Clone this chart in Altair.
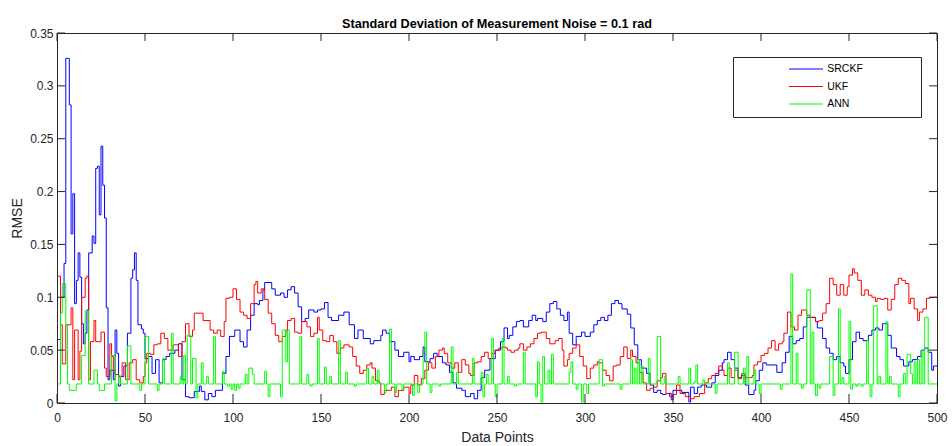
import altair as alt
import pandas as pd

# ---------------- data ----------------
SERIES = ["SRCKF", "UKF", "ANN"]
COLORS = ["#0000ff", "#ff0000", "#00ff00"]
X_MAX = 500
X_TICKS = [0, 50, 100, 150, 200, 250, 300, 350, 400, 450, 500]
Y_TICKS = [0, 0.05, 0.1, 0.15, 0.2, 0.25, 0.3, 0.35]

# SRCKF: step runs (start index, value)
SRCKF_START = [0, 2, 4, 5, 7, 8, 9, 10, 11, 12, 13, 14, 15, 16, 17, 18, 20, 21, 22, 23, 24, 25, 26, 27, 28,
               29, 30, 32, 33, 34, 35, 36, 38, 40, 42, 43, 44, 45, 46, 48, 49, 50, 52, 54, 56, 58, 60, 62,
               64, 67, 69, 71, 73, 75, 78, 81, 82, 84, 86, 88, 90, 94, 96, 98, 101, 104, 106, 108, 110,
               112, 114, 115, 117, 118, 122, 124, 127, 129, 131, 133, 135, 137, 139, 141, 143, 146, 148,
               150, 152, 154, 156, 160, 163, 166, 169, 171, 174, 178, 180, 184, 185, 187, 189, 192, 194,
               197, 200, 201, 203, 206, 208, 209, 212, 214, 216, 219, 221, 223, 225, 227, 230, 232, 235,
               237, 239, 241, 243, 246, 249, 252, 254, 256, 257, 259, 261, 263, 265, 268, 270, 272, 273,
               276, 278, 280, 282, 284, 286, 288, 290, 291, 293, 295, 298, 300, 303, 305, 307, 309, 311,
               313, 315, 317, 319, 321, 324, 326, 328, 330, 332, 335, 337, 339, 341, 343, 344, 346, 349,
               350, 355, 359, 360, 362, 364, 366, 369, 372, 374, 376, 378, 379, 381, 383, 385, 387, 389,
               391, 393, 396, 397, 399, 401, 403, 409, 412, 414, 416, 418, 420, 422, 424, 426, 431, 432,
               435, 437, 439, 441, 443, 445, 447, 448, 450, 452, 454, 456, 458, 461, 463, 465, 467, 469,
               472, 474, 477, 479, 481, 484, 486, 489, 491, 493, 495, 497, 498]
SRCKF_VALUE = [0.060, 0.100, 0.132, 0.326, 0.282, 0.160, 0.198, 0.094, 0.116, 0.142, 0.119, 0.075, 0.056,
               0.066, 0.088, 0.142, 0.158, 0.151, 0.222, 0.224, 0.178, 0.243, 0.206, 0.175, 0.090, 0.022,
               0.031, 0.022, 0.069, 0.047, 0.016, 0.025, 0.035, 0.066, 0.118, 0.126, 0.142, 0.116, 0.074,
               0.070, 0.066, 0.042, 0.044, 0.028, 0.041, 0.019, 0.041, 0.044, 0.047, 0.050, 0.056, 0.022,
               0.006, 0.005, 0.011, 0.016, 0.011, 0.003, 0.009, 0.006, 0.012, 0.028, 0.044, 0.063, 0.069,
               0.058, 0.053, 0.069, 0.083, 0.094, 0.093, 0.097, 0.107, 0.114, 0.108, 0.102, 0.104, 0.100,
               0.107, 0.110, 0.104, 0.091, 0.077, 0.080, 0.088, 0.086, 0.088, 0.089, 0.095, 0.081, 0.078,
               0.083, 0.086, 0.074, 0.061, 0.069, 0.061, 0.056, 0.059, 0.064, 0.069, 0.066, 0.058, 0.050,
               0.044, 0.048, 0.039, 0.044, 0.041, 0.044, 0.053, 0.039, 0.042, 0.047, 0.044, 0.038, 0.036,
               0.029, 0.019, 0.014, 0.012, 0.006, 0.009, 0.004, 0.012, 0.024, 0.031, 0.042, 0.050, 0.058,
               0.071, 0.061, 0.064, 0.072, 0.077, 0.078, 0.072, 0.078, 0.083, 0.078, 0.080, 0.077, 0.086,
               0.094, 0.096, 0.089, 0.083, 0.078, 0.086, 0.066, 0.055, 0.063, 0.067, 0.063, 0.067, 0.074,
               0.078, 0.081, 0.078, 0.083, 0.094, 0.097, 0.094, 0.089, 0.084, 0.071, 0.055, 0.041, 0.033,
               0.028, 0.017, 0.010, 0.012, 0.009, 0.008, 0.009, 0.003, 0.012, 0.010, 0.001, 0.015, 0.009,
               0.015, 0.017, 0.015, 0.019, 0.026, 0.031, 0.038, 0.041, 0.048, 0.041, 0.033, 0.024, 0.026,
               0.017, 0.008, 0.012, 0.021, 0.031, 0.038, 0.036, 0.029, 0.038, 0.048, 0.063, 0.056, 0.059,
               0.061, 0.072, 0.081, 0.077, 0.071, 0.061, 0.052, 0.047, 0.041, 0.044, 0.038, 0.035, 0.028,
               0.041, 0.058, 0.067, 0.061, 0.059, 0.064, 0.069, 0.071, 0.069, 0.075, 0.064, 0.052, 0.044,
               0.041, 0.035, 0.039, 0.041, 0.044, 0.050, 0.052, 0.048, 0.031, 0.035]

# UKF: step runs (start index, value)
UKF_START = [0, 2, 3, 5, 8, 9, 10, 12, 13, 14, 16, 17, 18, 19, 21, 22, 25, 27, 28, 30, 31, 32, 33, 35, 37,
             39, 41, 43, 45, 47, 49, 50, 51, 53, 55, 57, 59, 61, 63, 66, 69, 71, 73, 75, 77, 78, 83, 87,
             89, 91, 93, 95, 96, 98, 100, 102, 104, 106, 108, 110, 112, 113, 114, 116, 118, 120, 122, 124,
             126, 128, 130, 131, 133, 135, 137, 139, 142, 144, 146, 148, 149, 151, 153, 155, 157, 159, 161,
             163, 166, 168, 170, 172, 174, 176, 178, 179, 181, 183, 184, 186, 190, 192, 194, 197, 200, 201,
             203, 205, 207, 209, 211, 213, 215, 217, 219, 220, 222, 224, 226, 228, 230, 232, 234, 235, 237,
             239, 241, 243, 245, 247, 249, 251, 253, 255, 256, 258, 260, 262, 263, 265, 267, 269, 271, 273,
             275, 278, 280, 283, 285, 287, 288, 290, 291, 293, 295, 297, 299, 301, 303, 305, 307, 308, 310,
             312, 314, 316, 318, 320, 322, 324, 326, 327, 329, 331, 333, 335, 337, 339, 341, 343, 344, 346,
             348, 350, 352, 354, 357, 360, 362, 365, 368, 370, 372, 374, 376, 378, 379, 381, 383, 385, 387,
             389, 391, 395, 396, 398, 400, 402, 404, 406, 408, 410, 412, 413, 415, 417, 419, 421, 423, 426,
             428, 431, 433, 435, 437, 439, 441, 443, 445, 447, 449, 450, 452, 453, 455, 457, 459, 461, 463,
             465, 466, 468, 470, 472, 474, 476, 478, 480, 482, 484, 485, 487, 489, 490, 492, 494, 496]
UKF_VALUE = [0.120, 0.074, 0.037, 0.074, 0.090, 0.022, 0.069, 0.022, 0.049, 0.100, 0.118, 0.120, 0.022,
             0.058, 0.078, 0.058, 0.067, 0.033, 0.025, 0.056, 0.044, 0.031, 0.027, 0.025, 0.038, 0.022,
             0.038, 0.041, 0.022, 0.019, 0.025, 0.038, 0.047, 0.046, 0.055, 0.056, 0.066, 0.061, 0.050,
             0.055, 0.044, 0.058, 0.075, 0.063, 0.069, 0.085, 0.078, 0.069, 0.066, 0.069, 0.063, 0.077,
             0.099, 0.100, 0.108, 0.098, 0.086, 0.083, 0.080, 0.094, 0.112, 0.115, 0.104, 0.108, 0.098,
             0.085, 0.075, 0.064, 0.058, 0.063, 0.069, 0.078, 0.080, 0.067, 0.066, 0.077, 0.072, 0.063,
             0.066, 0.081, 0.069, 0.059, 0.058, 0.064, 0.058, 0.047, 0.052, 0.055, 0.053, 0.044, 0.035,
             0.028, 0.031, 0.036, 0.038, 0.033, 0.021, 0.019, 0.008, 0.012, 0.015, 0.006, 0.012, 0.015,
             0.009, 0.017, 0.026, 0.017, 0.023, 0.031, 0.038, 0.033, 0.044, 0.050, 0.052, 0.047, 0.038,
             0.033, 0.038, 0.029, 0.041, 0.036, 0.028, 0.026, 0.038, 0.039, 0.044, 0.048, 0.042, 0.047,
             0.050, 0.052, 0.053, 0.052, 0.050, 0.048, 0.050, 0.052, 0.056, 0.050, 0.053, 0.056, 0.061,
             0.066, 0.067, 0.061, 0.056, 0.059, 0.061, 0.050, 0.035, 0.041, 0.047, 0.052, 0.055, 0.044,
             0.035, 0.023, 0.033, 0.036, 0.039, 0.038, 0.031, 0.026, 0.021, 0.035, 0.036, 0.044, 0.053,
             0.042, 0.050, 0.044, 0.038, 0.029, 0.019, 0.012, 0.014, 0.015, 0.021, 0.024, 0.028, 0.009,
             0.006, 0.008, 0.017, 0.009, 0.006, 0.004, 0.006, 0.009, 0.019, 0.023, 0.026, 0.028, 0.035,
             0.031, 0.026, 0.033, 0.024, 0.031, 0.023, 0.028, 0.024, 0.026, 0.036, 0.039, 0.045, 0.047,
             0.052, 0.059, 0.050, 0.056, 0.058, 0.066, 0.086, 0.072, 0.069, 0.083, 0.088, 0.083, 0.081,
             0.077, 0.078, 0.085, 0.094, 0.118, 0.112, 0.102, 0.112, 0.102, 0.110, 0.121, 0.127, 0.123,
             0.116, 0.102, 0.107, 0.102, 0.100, 0.096, 0.099, 0.098, 0.099, 0.088, 0.098, 0.112, 0.118,
             0.116, 0.113, 0.094, 0.099, 0.089, 0.078, 0.086, 0.089, 0.099, 0.100]

# ANN: flat floor with one-sample spikes
ANN_BASE = 0.018
ANN_SPIKE_AT = [2, 3, 4, 5, 7, 8, 9, 10, 14, 15, 16, 17, 21, 22, 24, 25, 26, 31, 32, 33, 35, 40, 41, 47,
                50, 51, 57, 60, 65, 70, 72, 74, 75, 77, 78, 79, 82, 85, 89, 94, 97, 99, 101, 103, 107,
                109, 110, 111, 118, 120, 127, 128, 129, 130, 131, 138, 142, 144, 148, 152, 155, 160, 164,
                169, 176, 179, 182, 186, 189, 192, 196, 202, 205, 208, 209, 212, 217, 224, 227, 236, 241,
                242, 244, 247, 249, 253, 256, 260, 265, 272, 273, 275, 276, 279, 281, 291, 292, 295, 298,
                301, 308, 309, 310, 320, 326, 328, 330, 332, 336, 341, 342, 345, 353, 359, 362, 363, 367,
                374, 381, 385, 386, 390, 392, 396, 399, 411, 417, 420, 423, 426, 427, 429, 431, 433, 439,
                440, 441, 444, 446, 450, 451, 454, 457, 460, 462, 464, 465, 467, 471, 473, 478, 481, 483,
                484, 485, 487, 489, 491, 493, 494]
ANN_SPIKE_VAL = [0.085, 0.113, 0.113, 0.074, 0.012, 0.012, 0.012, 0.012, 0.045, 0.045, 0.087, 0.087,
                 0.031, 0.031, 0.012, 0.012, 0.012, 0.045, 0.045, 0.002, 0.026, 0.054, 0.054, 0.012,
                 0.063, 0.063, 0.012, 0.042, 0.066, 0.025, 0.045, 0.064, 0.064, 0.042, 0.042, 0.005,
                 0.038, 0.025, 0.063, 0.030, 0.016, 0.013, 0.012, 0.014, 0.027, 0.033, 0.033, 0.027,
                 0.030, 0.006, 0.006, 0.069, 0.069, 0.039, 0.069, 0.063, 0.027, 0.016, 0.061, 0.034,
                 0.025, 0.059, 0.029, 0.016, 0.033, 0.025, 0.031, 0.010, 0.070, 0.010, 0.013, 0.007,
                 0.010, 0.050, 0.067, 0.010, 0.016, 0.053, 0.029, 0.042, 0.029, 0.006, 0.027, 0.061,
                 0.006, 0.061, 0.025, 0.016, 0.048, 0.006, 0.039, 0.001, 0.044, 0.031, 0.046, 0.029,
                 0.039, 0.013, 0.001, 0.009, 0.041, 0.041, 0.016, 0.013, 0.041, 0.033, 0.041, 0.035,
                 0.042, 0.063, 0.063, 0.025, 0.025, 0.033, 0.020, 0.036, 0.022, 0.009, 0.038, 0.048,
                 0.048, 0.033, 0.044, 0.031, 0.009, 0.013, 0.122, 0.047, 0.014, 0.107, 0.107, 0.067,
                 0.007, 0.014, 0.044, 0.044, 0.007, 0.089, 0.024, 0.077, 0.013, 0.016, 0.016, 0.059,
                 0.006, 0.092, 0.092, 0.025, 0.077, 0.025, 0.006, 0.028, 0.046, 0.046, 0.028, 0.039,
                 0.041, 0.050, 0.081, 0.081]

# ---------------- build the long table ----------------
def runs_to_rows(name, starts, values):
    rows = [{"series": name, "x": s, "y": v} for s, v in zip(starts, values)]
    rows.append({"series": name, "x": X_MAX, "y": values[-1]})
    return rows

def spikes_to_runs(base, at, vals):
    spike = dict(zip(at, vals))
    starts, values = [], []
    prev = None
    for i in range(X_MAX):
        v = spike.get(i, base)
        if v != prev:
            starts.append(i)
            values.append(v)
            prev = v
    return starts, values

ann_start, ann_value = spikes_to_runs(ANN_BASE, ANN_SPIKE_AT, ANN_SPIKE_VAL)
rows = (runs_to_rows("SRCKF", SRCKF_START, SRCKF_VALUE)
        + runs_to_rows("UKF", UKF_START, UKF_VALUE)
        + runs_to_rows("ANN", ann_start, ann_value))
df = pd.DataFrame(rows)

FONT = "Liberation Sans"
INK = "#262626"

x_scale = alt.Scale(domain=[0, X_MAX], nice=False, zero=False)
y_scale = alt.Scale(domain=[0, 0.35], nice=False)

lines = alt.Chart(df).mark_line(interpolate="step-after", strokeWidth=1).encode(
    x=alt.X("x:Q", scale=x_scale, title="Data Points",
            axis=alt.Axis(values=X_TICKS, ticks=False, tickSize=0, grid=False, domain=False,
                          labelPadding=9, titlePadding=7, labelFlush=False)),
    y=alt.Y("y:Q", scale=y_scale, title="RMSE",
            axis=alt.Axis(values=Y_TICKS, format="~g", ticks=False, tickSize=0, grid=False,
                          domain=False, labelPadding=4, titlePadding=5)),
    color=alt.Color("series:N", sort=SERIES,
                    scale=alt.Scale(domain=SERIES, range=COLORS),
                    legend=alt.Legend(
                        title=None, orient="none", legendX=676, legendY=24,
                        symbolType="M-4.25,0H4.25M26.5,0", symbolSize=64, symbolStrokeWidth=1,
                        symbolOffset=61, labelOffset=16, rowPadding=6.5, padding=6.75,
                        labelFont=FONT, labelFontSize=10.5, labelColor="#000000",
                        strokeColor=INK, fillColor="#ffffff")),
    detail="series:N",
)

xt = pd.DataFrame({"x": X_TICKS})
yt = pd.DataFrame({"y": Y_TICKS})
tick_style = dict(color=INK, strokeWidth=1)
bottom_ticks = alt.Chart(xt).mark_rule(**tick_style).encode(
    x=alt.X("x:Q", scale=x_scale), y=alt.value(370), y2=alt.value(361))
top_ticks = alt.Chart(xt).mark_rule(**tick_style).encode(
    x=alt.X("x:Q", scale=x_scale), y=alt.value(0), y2=alt.value(8))
left_ticks = alt.Chart(yt).mark_rule(**tick_style).encode(
    y=alt.Y("y:Q", scale=y_scale), x=alt.value(0), x2=alt.value(8))
right_ticks = alt.Chart(yt).mark_rule(**tick_style).encode(
    y=alt.Y("y:Q", scale=y_scale), x=alt.value(880), x2=alt.value(872))

chart = alt.layer(lines, bottom_ticks, top_ticks, left_ticks, right_ticks).properties(
    width=880, height=370,
    title=alt.TitleParams("Standard Deviation of Measurement Noise = 0.1 rad",
                          font=FONT, fontSize=12.7, fontWeight="bold", color="#000000",
                          anchor="middle", frame="group", offset=8, baseline="alphabetic", dy=22),
    autosize=alt.AutoSizeParams(type="none"),
    padding={"left": 57, "top": 33, "right": 15, "bottom": 43},
    background="#ffffff",
).configure_view(stroke=INK, strokeWidth=1).configure_axis(
    labelFont=FONT, labelFontSize=12, labelColor=INK,
    titleFont=FONT, titleFontSize=14, titleFontWeight="normal", titleColor=INK,
)

chart.save("out.html", embed_options={"renderer": "svg", "actions": False})
